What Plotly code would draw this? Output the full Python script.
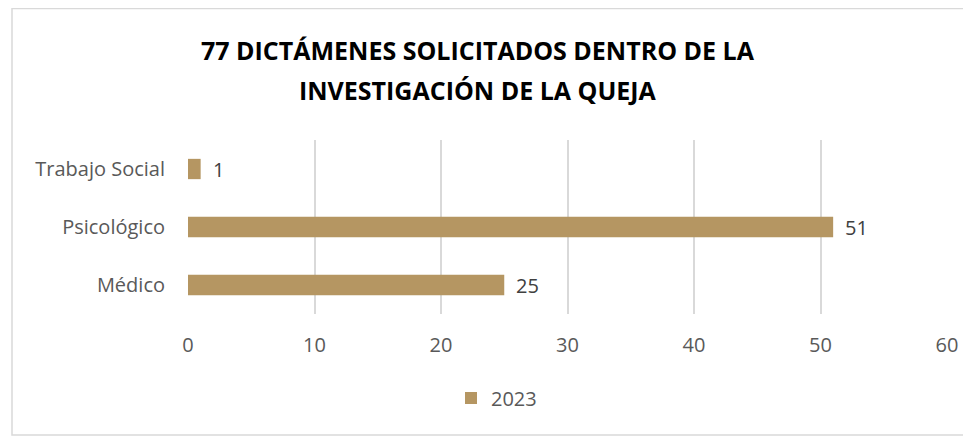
import plotly.graph_objects as go

categories = ["Médico", "Psicológico", "Trabajo Social"]
values_2023 = [25, 51, 1]
series_name = "2023"
x_ticks = [0, 10, 20, 30, 40, 50, 60]
title_lines = ["77 DICTÁMENES SOLICITADOS DENTRO DE LA", "INVESTIGACIÓN DE LA QUEJA"]

O = 8  # page body margin
W, H = 971 - O, 437 - O
L, R, T, B = 188 - O, 24, 140 - O, 123
pw = W - L - R
ph = H - T - B

def px_x(p):
    return (p - O - L) / pw

def px_y(p):
    return (H - B - (p - O)) / ph

FONT = "Open Sans"
GRAY = "#595959"
FS = 20

fig = go.Figure()
fig.add_trace(go.Bar(
    y=categories, x=values_2023, orientation="h", name=series_name,
    marker=dict(color="#B59662", line=dict(width=0)),
    cliponaxis=False,
))

annotations = []
for c, v in zip(categories, values_2023):
    annotations.append(dict(x=v, y=c, xref="x", yref="y", text=str(v), showarrow=False,
                            xanchor="left", yanchor="middle", xshift=10,
                            font=dict(family=FONT, size=FS, color="#404040")))
for i, line in enumerate(title_lines):
    annotations.append(dict(x=px_x(478), y=px_y(50 + 40 * i), xref="paper", yref="paper",
                            text="<b>" + line + "</b>", showarrow=False,
                            xanchor="center", yanchor="middle",
                            font=dict(family=FONT, size=25, color="#000000")))

xl, xr = px_x(12), px_x(1000)
yt, yb = px_y(8.5), px_y(435)
border_path = f"M {xr} {yt} L {xl} {yt} L {xl} {yb} L {xr} {yb}"

fig.update_layout(
    width=W, height=H,
    margin=dict(l=L, r=R, t=T, b=B, pad=0),
    paper_bgcolor="white", plot_bgcolor="white",
    bargap=0.65,
    showlegend=True,
    legend=dict(orientation="h", x=px_x(451), xanchor="left", y=px_y(398), yanchor="middle",
                font=dict(family=FONT, size=FS, color=GRAY),
                itemwidth=30, bgcolor="rgba(0,0,0,0)"),
    xaxis=dict(range=[0, 60], tickvals=x_ticks, showgrid=True, gridcolor="#D9D9D9", gridwidth=1.5,
               zeroline=False, showline=False, ticks="",
               tickfont=dict(family=FONT, size=FS, color=GRAY), ticklabelstandoff=17),
    yaxis=dict(showgrid=False, showline=False, ticks="", zeroline=False,
               tickfont=dict(family=FONT, size=FS, color=GRAY), ticklabelstandoff=22),
    annotations=annotations,
    shapes=[dict(type="path", xref="paper", yref="paper", path=border_path,
                 line=dict(color="#D9D9D9", width=1.5), layer="below")],
)

fig.write_html("out.html")
